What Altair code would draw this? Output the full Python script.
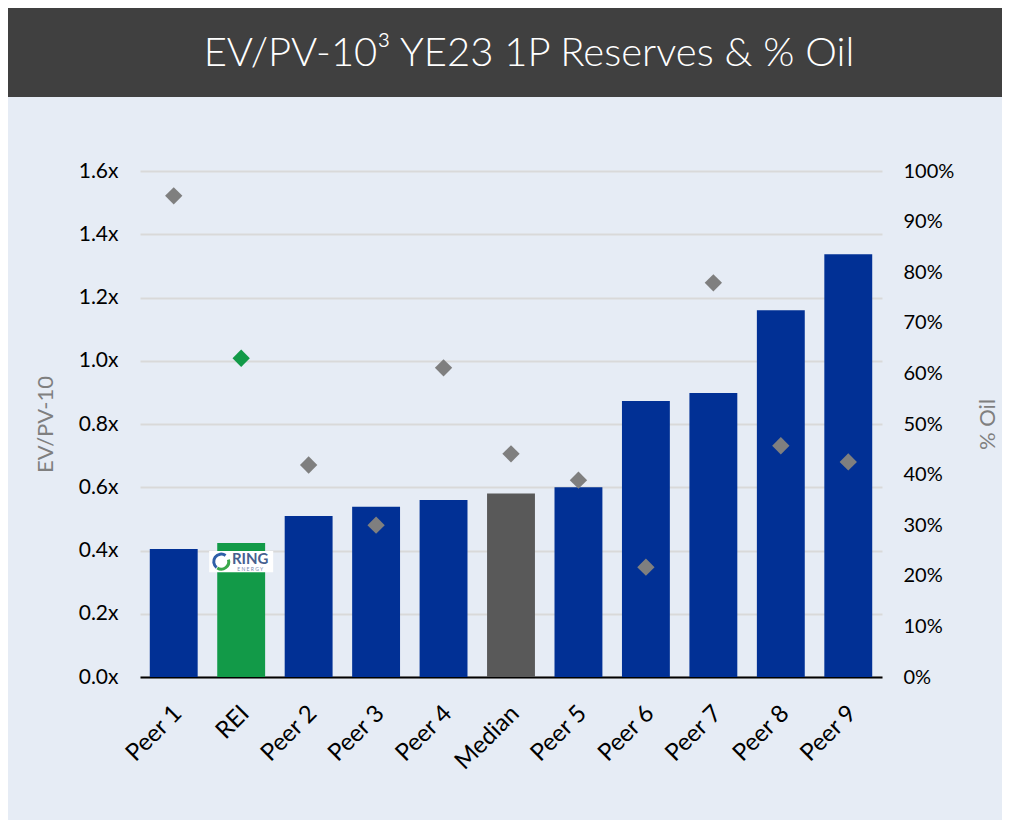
import altair as alt
import pandas as pd

title_text = "EV/PV-10³ YE23 1P Reserves & % Oil"
categories = ["Peer 1", "REI", "Peer 2", "Peer 3", "Peer 4", "Median",
              "Peer 5", "Peer 6", "Peer 7", "Peer 8", "Peer 9"]
groups = ["peer", "rei", "peer", "peer", "peer", "median",
          "peer", "peer", "peer", "peer", "peer"]
ev_pv10 = [0.405, 0.424, 0.509, 0.538, 0.56, 0.58, 0.60, 0.873, 0.898, 1.16, 1.337]
pct_oil = [0.951, 0.630, 0.419, 0.300, 0.611, 0.441, 0.389, 0.217, 0.779, 0.457, 0.425]
y_ticks = [0, 0.2, 0.4, 0.6, 0.8, 1.0, 1.2, 1.4, 1.6]
y2_ticks = [i / 10 for i in range(11)]

df = pd.DataFrame({"cat": categories, "grp": groups, "ev": ev_pv10, "oil": pct_oil})

BLUE = "#013095"
GREEN = "#129a48"
GRAY_BAR = "#595959"
DIAMOND = "#7f7f7f"
FONT = "Lato"

xenc = alt.X("cat:N", sort=categories, title=None,
             scale=alt.Scale(paddingInner=0.29, paddingOuter=0.145),
             axis=alt.Axis(labelAngle=-45, labelFontSize=24, labelColor="#000000",
                           labelFont=FONT, labelPadding=24, labelOffset=-4, ticks=False,
                           domainColor="#000000", domainWidth=2, grid=False))

y_axis = alt.Axis(values=y_ticks, labelExpr="format(datum.value, '.1f') + 'x'",
                  labelFontSize=21, labelColor="#000000", labelFont=FONT,
                  labelPadding=22, ticks=False, domain=False,
                  gridColor="#d9d9d9", gridWidth=2,
                  titleFontSize=22, titleColor="#7f7f7f", titleFont=FONT,
                  titleFontWeight="normal", titleAngle=-90,
                  titleX=-95, titleY=253, titleAlign="center",
                  titleBaseline="middle")
y_scale = alt.Scale(domain=[0, 1.6])

bars = alt.Chart(df).mark_bar().encode(
    x=xenc,
    y=alt.Y("ev:Q", title="EV/PV-10", scale=y_scale, axis=y_axis),
    color=alt.Color("grp:N", scale=alt.Scale(domain=["peer", "rei", "median"],
                                             range=[BLUE, GREEN, GRAY_BAR]), legend=None),
)

logo_df = pd.DataFrame({"cat": ["REI"], "ev": [0.365]})
logo_x = alt.X("cat:N", sort=categories)
logo_y = alt.Y("ev:Q", title="EV/PV-10", scale=y_scale, axis=y_axis)
logo_box = alt.Chart(logo_df).mark_point(
    shape="M-1,-0.33 L1,-0.33 L1,0.33 L-1,0.33 Z", filled=True, color="#ffffff",
    opacity=1, size=4096, strokeWidth=0
).encode(x=logo_x, y=logo_y)
logo_ring1 = alt.Chart(logo_df).mark_arc(
    radius=9, radius2=6, theta=3.8, theta2=6.9, color="#2f5fa8"
).encode(x=logo_x, y=logo_y, xOffset=alt.value(4))
logo_ring2 = alt.Chart(logo_df).mark_arc(
    radius=9, radius2=6, theta=1.3, theta2=3.7, color="#3aa84a"
).encode(x=logo_x, y=logo_y, xOffset=alt.value(4))
logo_word = alt.Chart(logo_df).mark_text(
    text="RING", font=FONT, fontSize=15, fontWeight="bold", color="#46608f",
    dx=9, dy=-3
).encode(x=logo_x, y=logo_y)
logo_sub = alt.Chart(logo_df).mark_text(
    text="E N E R G Y", font=FONT, fontSize=5, color="#7a8bb0", dx=9, dy=7
).encode(x=logo_x, y=logo_y)

left = alt.layer(bars, logo_box, logo_ring1, logo_ring2, logo_word, logo_sub)

diamonds = alt.Chart(df).mark_point(shape="diamond", filled=True, size=300, opacity=1).encode(
    x=alt.X("cat:N", sort=categories),
    y=alt.Y("oil:Q", title="% Oil", scale=alt.Scale(domain=[0, 1]),
            axis=alt.Axis(orient="right", values=y2_ticks, format=".0%",
                          labelFontSize=20, labelColor="#000000", labelFont=FONT,
                          labelPadding=21, ticks=False, domain=False, grid=False,
                          titleFontSize=22, titleColor="#7f7f7f", titleFont=FONT,
                          titleFontWeight="normal", titleAngle=-90,
                          titleX=105, titleY=253, titleAlign="center",
                          titleBaseline="middle")),
    color=alt.Color("grp:N", scale=alt.Scale(domain=["peer", "rei", "median"],
                                             range=[DIAMOND, GREEN, DIAMOND]), legend=None),
)

title_df = pd.DataFrame({"t": [title_text]})
title_bar = alt.Chart(title_df).mark_rect(color="#404040").encode(
    x=alt.value(-132), x2=alt.value(862), y=alt.value(-163), y2=alt.value(-74))
title_txt = alt.Chart(title_df).mark_text(
    font=FONT, fontSize=40, fontWeight=300, color="#ffffff", align="center", baseline="middle"
).encode(text="t:N", x=alt.value(389), y=alt.value(-117))

chart = alt.layer(title_bar, title_txt, left, diamonds).resolve_scale(
    y="independent", color="independent"
).properties(
    width=742, height=506,
    autosize=alt.AutoSizeParams(type="none"),
    padding={"left": 132, "top": 163, "right": 120, "bottom": 143},
).configure(background="#e6ecf5").configure_view(stroke=None)

chart.save("out.html", embed_options={"renderer": "svg", "actions": False})
